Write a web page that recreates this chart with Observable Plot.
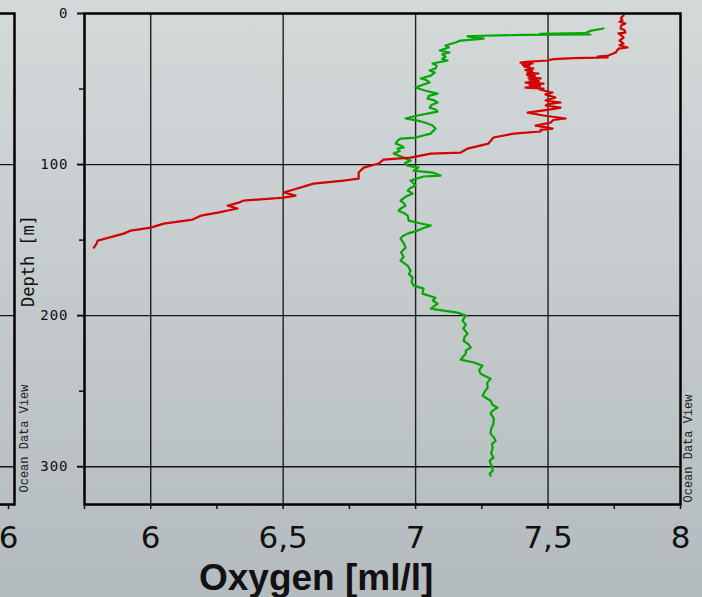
<!DOCTYPE html>
<html><head><meta charset="utf-8">
<script src="https://cdn.jsdelivr.net/npm/d3@7"></script>
<script src="https://cdn.jsdelivr.net/npm/@observablehq/plot@0.6"></script>
<style>
html,body{margin:0;padding:0;}
body{width:702px;height:597px;overflow:hidden;position:relative;color:#111;
  background:linear-gradient(#d4d9da,#c3c9cb 55%,#b3bbbe);font-family:"DejaVu Sans";}
#left{position:absolute;left:-266px;top:0;}
#main{position:absolute;left:0;top:0;}
#title{position:absolute;left:199px;top:559px;font:bold 37px/37px "Liberation Sans";white-space:nowrap;color:#111;}
svg [aria-label="y-axis tick label"]{letter-spacing:1px;}
</style>
</head><body>
<div id="left"></div>
<div id="main"></div>
<div id="title">Oxygen [ml/l]</div>
<script>
// Red profile: depth [m] and oxygen [ml/l]
const redDepth = [1.3,3.0,4.6,5.5,6.6,8.0,9.9,11.0,12.6,13.2,15.0,15.9,17.9,19.9,21.0,22.5,23.2,25.8,27.8,28.5,29.1,29.6,30.2,31.1,32.0,32.5,33.1,34.0,34.4,35.2,36.4,37.5,38.2,39.1,39.7,40.5,41.5,42.4,43.0,43.8,44.8,45.7,46.4,47.2,48.0,49.0,49.7,50.5,52.3,53.5,55.6,57.6,58.9,60.0,60.9,62.3,63.5,65.6,67.5,69.5,70.5,72.2,74.2,75.5,76.2,77.0,78.1,79.5,82.1,86.1,89.4,91.0,92.1,92.7,95.4,96.7,99.3,102.0,105.3,109.3,110.6,112.6,118.5,120.5,121.9,123.8,125.2,127.2,129.1,131.8,133.8,136.4,139.1,141.7,143.7,145.7,150.3,152.5,155.0];
const redOxygen = [7.785,7.775,7.781,7.770,7.792,7.776,7.774,7.788,7.792,7.766,7.780,7.785,7.770,7.785,7.770,7.800,7.766,7.755,7.728,7.687,7.725,7.600,7.520,7.498,7.420,7.396,7.442,7.404,7.430,7.410,7.445,7.415,7.440,7.423,7.464,7.420,7.450,7.426,7.472,7.430,7.465,7.415,7.483,7.430,7.470,7.415,7.483,7.470,7.517,7.490,7.528,7.491,7.547,7.500,7.491,7.547,7.510,7.423,7.483,7.566,7.520,7.509,7.453,7.500,7.517,7.472,7.472,7.370,7.294,7.275,7.196,7.180,7.170,7.057,6.981,6.879,6.860,6.804,6.785,6.785,6.728,6.615,6.502,6.547,6.502,6.351,6.332,6.291,6.328,6.253,6.189,6.158,6.049,6.000,5.925,5.898,5.800,5.795,5.785];

// Green profile: depth [m] and oxygen [ml/l]
const greenDepth = [9.9,11.5,13.0,13.4,13.9,14.2,14.9,15.2,16.6,17.9,19.2,21.2,22.5,24.5,25.8,27.0,28.5,30.0,31.1,33.1,34.5,36.4,37.7,39.1,41.1,43.0,44.0,45.7,47.0,49.0,51.0,53.0,54.5,56.3,57.5,58.9,60.5,62.3,63.5,64.9,67.5,69.5,70.9,72.5,74.2,76.2,79.5,82.1,82.8,84.5,86.1,87.5,88.7,89.4,91.0,92.7,95.4,97.4,99.0,100.7,102.0,104.0,105.3,107.3,107.9,110.6,112.0,113.9,115.5,117.2,119.2,121.5,123.8,125.5,127.2,129.0,130.5,132.0,133.8,137.1,139.0,140.4,142.0,143.7,145.7,147.5,149.0,152.0,155.0,158.0,161.0,163.6,166.9,170.2,172.5,174.8,177.5,180.1,182.1,185.4,188.1,190.0,192.1,195.4,196.5,198.0,200.0,203.3,206.0,208.5,211.9,214.0,216.6,219.0,221.2,223.0,225.2,227.0,229.1,231.0,233.1,236.0,238.4,241.7,244.5,247.7,250.5,253.0,256.3,259.0,260.9,263.0,264.9,268.0,271.5,275.0,278.1,280.5,282.8,285.0,287.4,291.0,294.0,296.0,298.0,300.5,302.6,304.5,306.0];
const greenOxygen = [7.709,7.660,7.640,7.470,7.660,7.400,7.210,7.196,7.257,7.170,7.151,7.113,7.125,7.091,7.128,7.100,7.113,7.100,7.121,7.064,7.080,7.075,7.053,7.072,7.057,7.019,7.040,7.053,7.030,7.000,7.034,7.083,7.050,7.045,7.070,7.083,7.060,7.053,7.075,7.083,7.008,6.962,7.008,7.040,7.064,7.075,7.057,7.000,6.943,6.930,6.925,6.945,6.955,6.932,6.940,6.917,6.955,6.981,6.960,6.970,7.011,6.992,7.064,7.094,7.030,6.981,6.990,7.000,6.980,6.970,6.989,6.960,6.943,6.955,6.962,6.945,6.936,6.955,6.970,6.974,7.020,7.057,7.030,7.008,6.970,6.950,6.943,6.955,6.962,6.945,6.955,6.943,6.970,6.981,6.975,6.989,6.985,6.992,7.030,7.026,7.075,7.065,7.083,7.057,7.100,7.158,7.189,7.177,7.190,7.180,7.196,7.185,7.181,7.200,7.208,7.190,7.189,7.180,7.170,7.220,7.253,7.240,7.245,7.283,7.270,7.272,7.260,7.253,7.283,7.290,7.309,7.290,7.283,7.295,7.294,7.285,7.283,7.295,7.302,7.288,7.291,7.285,7.294,7.280,7.283,7.290,7.291,7.280,7.283];

// Axes
const oxygenDomain = [5.75, 8];
const depthDomain = [0, 325];
const oxygenGrid = [6, 6.5, 7, 7.5];
const oxygenMinorTicks = [5.75, 6, 6.25, 6.5, 6.75, 7, 7.25, 7.5, 7.75, 8];
const oxygenTickLabels = [6, 6.5, 7, 7.5, 8];
const depthGrid = [100, 200, 300];
const depthTickLabels = [0, 100, 200, 300];
const depthMinorTicks = [50, 150, 250];
const leftPanelTickLabels = [6];

const redRows = redDepth.map((d, i) => ({depth: d, oxygen: redOxygen[i]}));
const greenRows = greenDepth.map((d, i) => ({depth: d, oxygen: greenOxygen[i]}));
const fmt = d => String(d).replace(".", ",");

const common = {
  height: 560, marginTop: 13, marginBottom: 56,
  style: {background: "transparent", color: "#111"}
};

const leftPlot = Plot.plot({
  ...common,
  width: 300, marginLeft: 10, marginRight: 20,
  x: {domain: [5, 6]},
  y: {domain: depthDomain, reverse: true, axis: null},
  marks: [
    Plot.gridY(depthGrid, {stroke: "#000", strokeOpacity: 0.9, strokeWidth: 1.4}),
    Plot.frame({stroke: "#000", strokeWidth: 2.5}),
    Plot.axisX(leftPanelTickLabels, {tickSize: 5, strokeWidth: 1.5, tickPadding: 16, fontSize: 31, fontFamily: "DejaVu Sans", dx: -6, tickFormat: fmt, label: null})
  ]
});
document.getElementById("left").appendChild(leftPlot);

const mainPlot = Plot.plot({
  ...common,
  width: 702, marginLeft: 84, marginRight: 22,
  x: {domain: oxygenDomain},
  y: {domain: depthDomain, reverse: true},
  marks: [
    Plot.gridX(oxygenGrid, {stroke: "#000", strokeOpacity: 0.85, strokeWidth: 1.4}),
    Plot.gridY(depthGrid, {stroke: "#000", strokeOpacity: 0.9, strokeWidth: 1.4}),
    Plot.line(greenRows, {x: "oxygen", y: "depth", stroke: "#00a800", strokeWidth: 2.2}),
    Plot.line(redRows, {x: "oxygen", y: "depth", stroke: "#d40000", strokeWidth: 2.2}),
    Plot.frame({stroke: "#000", strokeWidth: 2.5}),
    Plot.axisY(depthTickLabels, {tickSize: 7, strokeWidth: 2, tickPadding: 9, fontSize: 14, fontFamily: "DejaVu Sans Mono", label: null}),
    Plot.axisY(depthMinorTicks, {tickSize: 5, strokeWidth: 1.5, tickFormat: () => "", label: null}),
    Plot.axisX(oxygenMinorTicks, {tickSize: 5, strokeWidth: 1.5, tickFormat: () => "", label: null}),
    Plot.axisX(oxygenTickLabels, {tickSize: 0, tickPadding: 21, fontSize: 31, fontFamily: "DejaVu Sans", tickFormat: fmt, label: null}),
    Plot.text(["Depth [m]"], {frameAnchor: "left", rotate: -90, textAnchor: "middle", dx: -56, dy: 2, fontFamily: "DejaVu Sans Mono", fontSize: 17, fill: "#111"}),
    Plot.text(["Ocean Data View"], {frameAnchor: "bottom-left", rotate: -90, textAnchor: "start", dx: -57, dy: -12, fontFamily: "Liberation Mono", fontSize: 12, fill: "#222"}),
    Plot.text(["Ocean Data View"], {frameAnchor: "bottom-right", rotate: -90, textAnchor: "start", dx: 11, dy: -2, fontFamily: "Liberation Mono", fontSize: 12, fill: "#222"})
  ]
});
document.getElementById("main").appendChild(mainPlot);
</script>
</body></html>
